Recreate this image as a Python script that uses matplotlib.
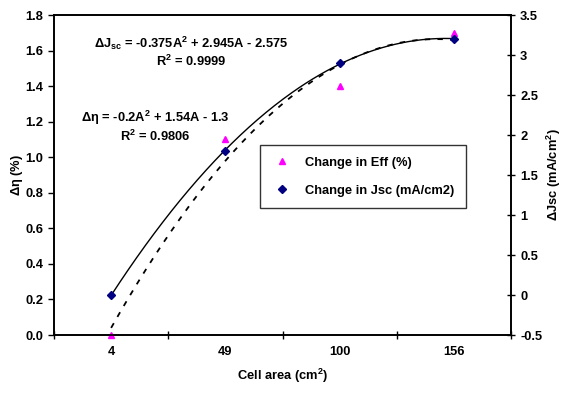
import numpy as np
import matplotlib
matplotlib.use("Agg")
import matplotlib.pyplot as plt

plt.rcParams['font.family'] = ['Liberation Sans', 'DejaVu Sans']
plt.rcParams['font.weight'] = 'bold'
plt.rcParams['mathtext.fontset'] = 'custom'
plt.rcParams['mathtext.rm'] = 'Liberation Sans:bold'
plt.rcParams['mathtext.it'] = 'Liberation Sans:bold'
plt.rcParams['mathtext.bf'] = 'Liberation Sans:bold'
plt.rcParams['mathtext.sf'] = 'Liberation Sans:bold'
plt.rcParams['mathtext.default'] = 'rm'

categories = ['4', '49', '100', '156']
eff = [0.0, 1.1, 1.4, 1.7]
jsc = [0.0, 1.8, 2.9, 3.2]
left_ticks = [0.0, 0.2, 0.4, 0.6, 0.8, 1.0, 1.2, 1.4, 1.6, 1.8]
right_ticks = [-0.5, 0, 0.5, 1, 1.5, 2, 2.5, 3, 3.5]

FS = 9.3

fig = plt.figure(figsize=(5.63, 3.98), dpi=100)
ax = fig.add_axes([54/563, 1-335/398, 457/563, 320/398])
ax2 = ax.twinx()

A = np.arange(1, len(categories) + 1)
Af = np.linspace(1, 4, 200)

pe = np.polyfit(A, eff, 2)
pj = np.polyfit(A, jsc, 2)

ax.plot(Af, np.polyval(pe, Af), color='black', lw=1.3, ls=(0, (3, 4)))
h1, = ax.plot(A, eff, ls='none', marker='^', color='#FF00FF', ms=5, clip_on=False, zorder=5)
ax2.plot(Af, np.polyval(pj, Af), color='black', lw=1.0)
h2, = ax2.plot(A, jsc, ls='none', marker='D', color='#000080', ms=4.5, clip_on=False, zorder=5)

ax.set_xlim(0.5, 4.5)
ax.set_ylim(0, 1.8)
ax2.set_ylim(-0.5, 3.5)
ax.set_xticks([0.5, 1.5, 2.5, 3.5, 4.5])
ax.set_xticklabels([])
ax.set_xticks(A, minor=True)
ax.set_xticklabels(categories, minor=True, fontsize=FS, fontweight='bold')
ax.tick_params(axis='x', which='major', direction='inout', length=6, width=1)
ax.tick_params(axis='x', which='minor', length=0, pad=8)
ax.set_yticks(left_ticks)
ax.set_yticklabels([f'{v:.1f}' for v in left_ticks], fontsize=FS, fontweight='bold')
ax.tick_params(axis='y', direction='out', length=4, width=1)
ax2.set_yticks(right_ticks)
ax2.set_yticklabels([f'{v:g}' for v in right_ticks], fontsize=FS, fontweight='bold')
ax2.tick_params(axis='y', direction='inout', length=6, width=1)

for a in (ax, ax2):
    for s in a.spines.values():
        s.set_linewidth(1.2)

ax.set_ylabel(r'$\Delta\eta$ (%)', fontsize=FS, fontweight='bold')
ax.yaxis.set_label_coords(-0.064, 0.5)
ax2.set_ylabel(r'$\Delta$Jsc (mA/cm$^2$)', fontsize=FS, fontweight='bold', labelpad=2)
ax.set_xlabel(r'Cell area (cm$^2$)', fontsize=FS, fontweight='bold', labelpad=6)

texts = [
    (191, 43, r'$\Delta$J$_{sc}$ = -0.375A$^2$ + 2.945A - 2.575'),
    (191, 61, r'R$^2$ = 0.9999'),
    (155, 118, r'$\Delta\eta$ = -0.2A$^2$ + 1.54A - 1.3'),
    (155, 136, r'R$^2$ = 0.9806'),
]
for x, y, s in texts:
    fig.text(x/563, 1 - y/398, s, ha='center', va='center', fontsize=FS, fontweight='bold')

leg = ax2.legend([h1, h2], ['Change in Eff (%)', 'Change in Jsc (mA/cm2)'],
                 loc='upper left', bbox_to_anchor=(0.451, 0.594), borderaxespad=0,
                 frameon=True, fancybox=False, edgecolor='black', borderpad=0.9,
                 labelspacing=1.25, handletextpad=1.0, handlelength=1.6,
                 prop={'weight': 'bold', 'size': FS})
leg.get_frame().set_linewidth(1.0)

fig.savefig('out.png', dpi=100)
